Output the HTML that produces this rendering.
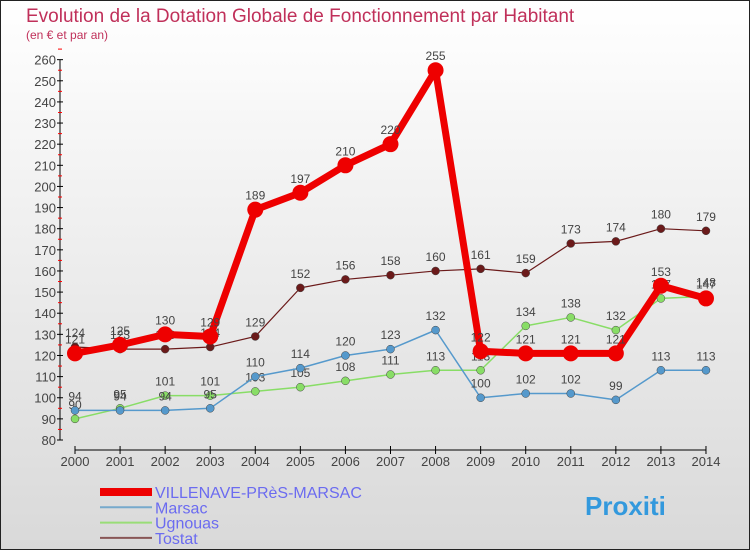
<!DOCTYPE html>
<html><head><meta charset="utf-8"><style>
body{margin:0}
#c{width:750px;height:550px;position:relative;box-sizing:border-box;border:1px solid #222;background:linear-gradient(#fff,#d9d9d9);font-family:"Liberation Sans",sans-serif;overflow:hidden}
</style></head><body>
<div id="c">
<svg id="s" width="750" height="550" style="position:absolute;left:-1px;top:-1px">
<text x="26" y="22" font-size="19" fill="#c0305a">Evolution de la Dotation Globale de Fonctionnement par Habitant</text>
<text x="26" y="39" font-size="12" fill="#c0305a">(en € et par an)</text>
<g id="g"></g>
</svg>
</div>
<script>
const years=["2000","2001","2002","2003","2004","2005","2006","2007","2008","2009","2010","2011","2012","2013","2014"];
const villenave=[121,125,130,129,189,197,210,220,255,122,121,121,121,153,147];
const marsac=[94,94,94,95,110,114,120,123,132,100,102,102,99,113,113];
const ugnouas=[90,95,101,101,103,105,108,111,113,113,134,138,132,147,148];
const tostat=[124,123,123,124,129,152,156,158,160,161,159,173,174,180,179];
const yTicks=[80,90,100,110,120,130,140,150,160,170,180,190,200,210,220,230,240,250,260];
const NS="http://www.w3.org/2000/svg",g=document.getElementById('g');
const X=i=>75+i*45.07, Y=v=>440-(v-80)*21.13/10;
function el(t,a,p){const e=document.createElementNS(NS,t);for(const k in a)e.setAttribute(k,a[k]);(p||g).appendChild(e);return e;}
let ax=el('line',{x1:60,y1:Y(260),x2:60,y2:440,stroke:'#000'});


yTicks.forEach(v=>{
 el('line',{x1:57,x2:63,y1:Y(v),y2:Y(v),stroke:'#000'});
 el('line',{x1:58,x2:62,y1:Y(v+5),y2:Y(v+5),stroke:'#f00'});
 const t=el('text',{x:56,y:Y(v)+5,'font-size':13,fill:'#444','text-anchor':'end'});t.textContent=v;
 
 
});
let xa=el('line',{x1:75,y1:450,x2:X(14),y2:450,stroke:'#000'});


years.forEach((y,i)=>{
 el('line',{x1:X(i),x2:X(i),y1:446,y2:454,stroke:'#000'});
 const t=el('text',{x:X(i),y:466,'font-size':13,fill:'#444','text-anchor':'middle'});t.textContent=y;
 
 
});
const series=[[tostat,'#6b1a1a',1.2,4,'tostat'],[ugnouas,'#88dd66',1.5,4,'ugnouas'],[marsac,'#5599cc',1.5,4,'marsac'],[villenave,'#ee0000',7,8,'villenave']];
series.forEach(([d,c,w,r,n])=>{
 const p=el('polyline',{points:d.map((v,i)=>X(i)+','+Y(v)).join(' '),fill:'none',stroke:c,'stroke-width':w,'stroke-linejoin':'round'});
 
 
 d.forEach((v,i)=>{
  const m=el('circle',{cx:X(i),cy:Y(v),r:r,fill:c,stroke:n=='villenave'?'none':'#444','stroke-width':0.5});
  
  
  const t=el('text',{x:X(i),y:Y(v)-10,'font-size':12,fill:'#444','text-anchor':'middle'});t.textContent=v;
  
  
 });
});
const leg=[['VILLENAVE-PRèS-MARSAC','#ee0000',8],['Marsac','#77aacc',2],['Ugnouas','#99dd77',2],['Tostat','#885555',2]];
leg.forEach(([n,c,w],i)=>{
 const y=492+i*15.3;
 const gg=el('g',{});
 
 
 el('line',{x1:100,x2:152,y1:y,y2:y,stroke:c,'stroke-width':w},gg);
 const t=el('text',{x:155,y:y+6,'font-size':16,fill:'#6b6bf0'},gg);t.textContent=n;
});
const lg=el('text',{x:585,y:515,'font-size':26,'font-weight':'bold',fill:'#3399dd'});
lg.textContent='Proxiti';


</script>
</body></html>
